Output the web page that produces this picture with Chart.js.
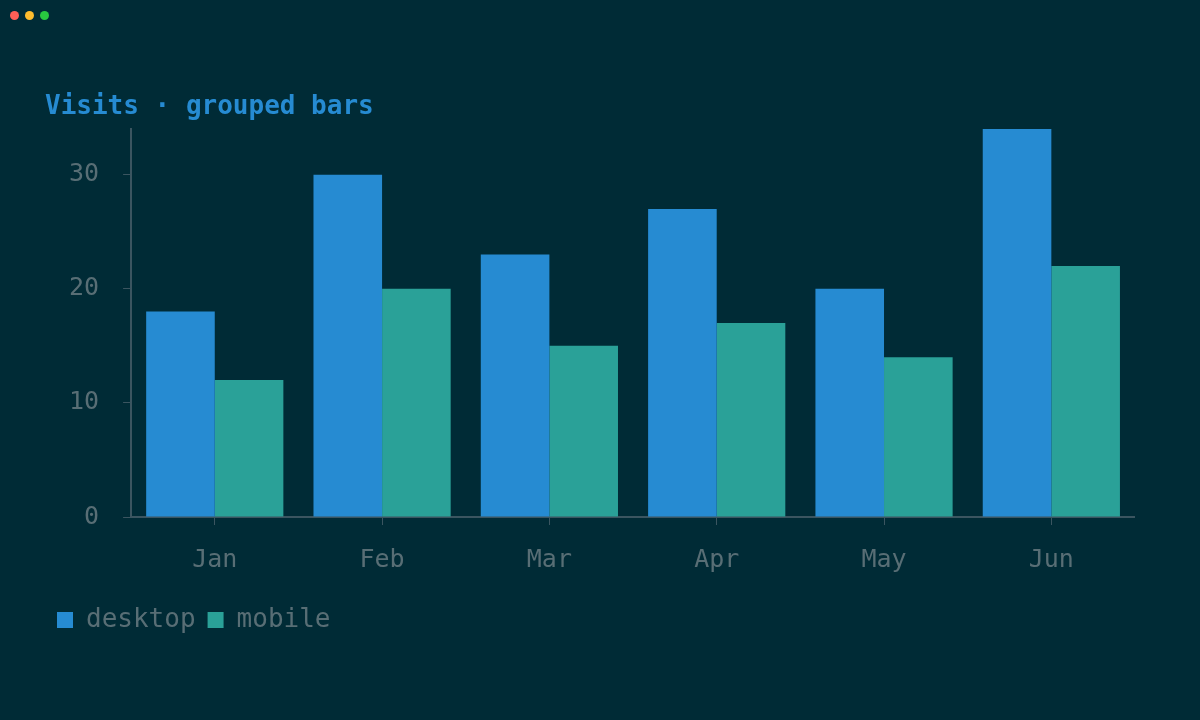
<!DOCTYPE html>
<html><head><meta charset="utf-8">
<script src="https://cdn.jsdelivr.net/npm/chart.js@4"></script>
<style>
html,body{margin:0;background:#002b36;width:1200px;height:720px;overflow:hidden}
.d{position:absolute;top:11px;width:9px;height:9px;border-radius:50%}
#w{position:absolute;left:45px;top:90px;width:1090px;height:553px}
</style></head><body>
<div class="d" style="left:10px;background:#ff5f57"></div>
<div class="d" style="left:25px;background:#febc2e"></div>
<div class="d" style="left:40px;background:#28c840"></div>
<div id="w"><canvas id="c"></canvas></div>
<script>
const categories=["Jan","Feb","Mar","Apr","May","Jun"];
const desktop=[18,30,23,27,20,34];
const mobile=[12,20,15,17,14,22];
const yTicks=[0,10,20,30];
const font="'DejaVu Sans Mono', monospace";
const grey="#586e75", axis="#3b5560";
new Chart(document.getElementById('c'),{
type:'bar',
data:{labels:categories,datasets:[
{label:'desktop',data:desktop,backgroundColor:'#268bd2',categoryPercentage:0.82,barPercentage:1},
{label:'mobile',data:mobile,backgroundColor:'#2aa198',categoryPercentage:0.82,barPercentage:1}]},
options:{responsive:true,maintainAspectRatio:false,animation:false,
layout:{padding:0},
plugins:{
title:{display:true,text:'Visits · grouped bars',align:'start',color:'#268bd2',font:{family:font,size:26,weight:'bold'},padding:{top:0,bottom:6}},
legend:{position:'bottom',align:'start',labels:{color:grey,font:{family:font,size:26},boxWidth:16,boxHeight:16,padding:12}},
tooltip:{enabled:false}},
scales:{
x:{grid:{display:true,offset:false,drawOnChartArea:false,color:axis,tickLength:8},border:{color:axis,width:2},
ticks:{color:grey,font:{family:font,size:25},padding:20}},
y:{min:0,max:34,afterBuildTicks:s=>{s.ticks=yTicks.map(v=>({value:v}));},
grid:{display:true,drawOnChartArea:false,color:axis,tickLength:8},border:{color:axis,width:2},
ticks:{color:grey,font:{family:font,size:25},padding:24}}}}
});
</script></body></html>
